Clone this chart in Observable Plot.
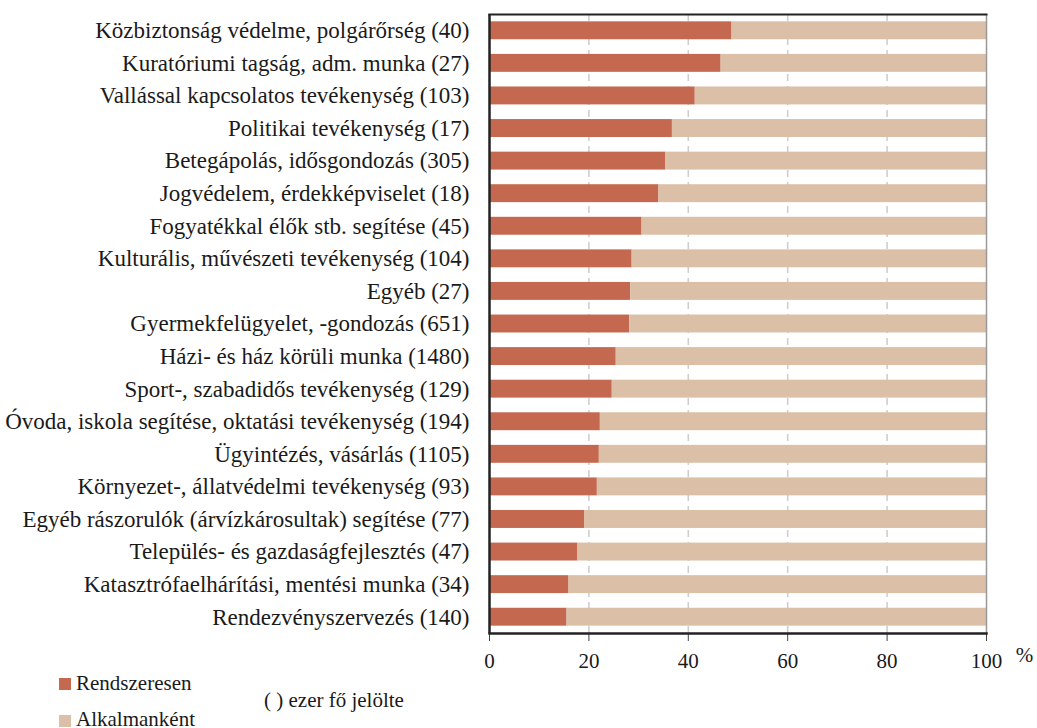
<!DOCTYPE html>
<html><head><meta charset="utf-8">
<script src="https://cdn.jsdelivr.net/npm/d3@7"></script>
<script src="https://cdn.jsdelivr.net/npm/@observablehq/plot@0.6"></script>
<style>
body{margin:0;background:#fff;font-family:"Liberation Serif","Times New Roman",serif;color:#1a1a1a}
#wrap{position:relative;width:1037px;height:728px;overflow:hidden}
#chart svg{display:block}
.lg{position:absolute;font-size:21px;line-height:1;white-space:nowrap}
.sw{position:absolute;width:12px;height:12px}
</style></head><body>
<div id="wrap"><div id="chart"></div><div id="legend"></div></div>
<script>
const categories = [
  "Közbiztonság védelme, polgárőrség",
  "Kuratóriumi tagság, adm. munka",
  "Vallással kapcsolatos tevékenység",
  "Politikai tevékenység",
  "Betegápolás, idősgondozás",
  "Jogvédelem, érdekképviselet",
  "Fogyatékkal élők stb. segítése",
  "Kulturális, művészeti tevékenység",
  "Egyéb",
  "Gyermekfelügyelet, -gondozás",
  "Házi- és ház körüli munka",
  "Sport-, szabadidős tevékenység",
  "Óvoda, iskola segítése, oktatási tevékenység",
  "Ügyintézés, vásárlás",
  "Környezet-, állatvédelmi tevékenység",
  "Egyéb rászorulók (árvízkárosultak) segítése",
  "Település- és gazdaságfejlesztés",
  "Katasztrófaelhárítási, mentési munka",
  "Rendezvényszervezés"
];
const counts = [40, 27, 103, 17, 305, 18, 45, 104, 27, 651, 1480, 129, 194, 1105, 93, 77, 47, 34, 140];
const regular = [48.8, 46.6, 41.4, 36.8, 35.5, 34.1, 30.7, 28.7, 28.4, 28.2, 25.5, 24.7, 22.3, 22.1, 21.7, 19.2, 17.8, 16.0, 15.6];
const seriesNames = ["Rendszeresen", "Alkalmanként"];
const colors = ["#C4684F", "#DBBFA6"];
const xTicks = [0, 20, 40, 60, 80, 100];
const gridTicks = [20, 40, 60, 80];
const unitLabel = "%";
const noteText = "( ) ezer fő jelölte";

const labels = categories.map((c, i) => `${c} (${counts[i]})`);
const data = [];
labels.forEach((l, i) => {
  data.push({label: l, series: seriesNames[0], x1: 0, x2: regular[i]});
  data.push({label: l, series: seriesNames[1], x1: regular[i], x2: 100});
});

const chart = Plot.plot({
  width: 1037, height: 672,
  marginLeft: 489, marginRight: 51, marginTop: 14, marginBottom: 39,
  style: {fontFamily: "'Liberation Serif', 'Times New Roman', serif", fontSize: "21px", color: "#1a1a1a", background: "white"},
  x: {domain: [0, 100], ticks: xTicks, label: null},
  y: {domain: labels, paddingInner: 0.45, paddingOuter: 0.225, round: false, label: null},
  color: {domain: seriesNames, range: colors},
  marks: [
    Plot.gridX(gridTicks, {stroke: "#cfcfcf", strokeOpacity: 1, strokeWidth: 1.6, strokeDasharray: "7,5"}),
    Plot.barX(data, {y: "label", x1: "x1", x2: "x2", fill: "series"}),
    Plot.axisY({tickSize: 0, tickPadding: 20, fontSize: 23, label: null}),
    Plot.axisX({ticks: xTicks, tickSize: 8, tickPadding: 12, fontSize: 21, label: null, stroke: "#444"}),
    Plot.ruleX([0], {stroke: "#222", strokeWidth: 2.5}),
    Plot.ruleX([100], {stroke: "#999", strokeWidth: 1.5}),
    Plot.frame({anchor: "top", stroke: "#222", strokeWidth: 2}),
    Plot.frame({anchor: "bottom", stroke: "#222", strokeWidth: 2.5}),
    Plot.text([unitLabel], {x: 100, frameAnchor: "bottom", text: d => d, dx: 38, dy: 28, fontSize: 21, textAnchor: "middle", fill: "#1a1a1a"})
  ]
});
document.getElementById("chart").appendChild(chart);

const lg = document.getElementById("legend");
lg.innerHTML = `
<div class="sw" style="left:59px;top:678px;background:${colors[0]}"></div>
<div class="lg" style="left:76px;top:673px">${seriesNames[0]}</div>
<div class="sw" style="left:59px;top:715px;background:${colors[1]}"></div>
<div class="lg" style="left:76px;top:709px">${seriesNames[1]}</div>
<div class="lg" style="left:264px;top:690px">${noteText}</div>`;
</script>
</body></html>
